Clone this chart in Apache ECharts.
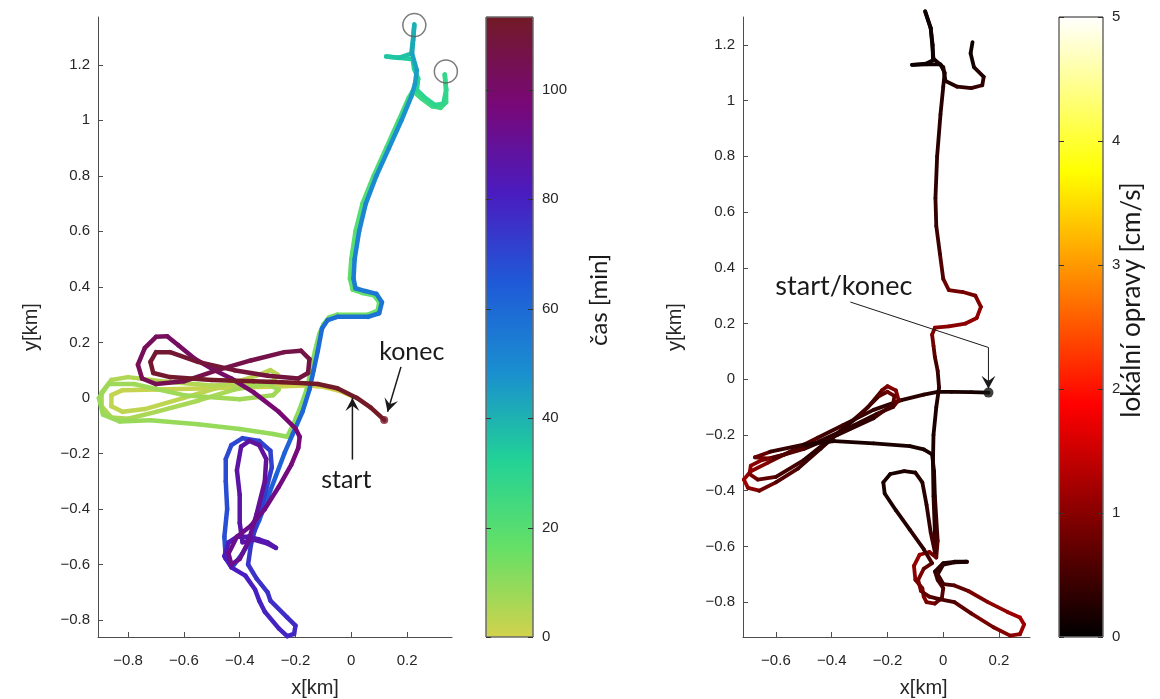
<!DOCTYPE html>
<html>
<head>
<meta charset="utf-8">
<script src="https://cdn.jsdelivr.net/npm/echarts@6/dist/echarts.min.js"></script>
<style>
  html, body { margin: 0; padding: 0; background: #fff; }
  #chart { width: 1160px; height: 699px; }
</style>
</head>
<body>
<div id="chart"></div>
<script>
// tick labels
const xTicksLeft = [-0.8, -0.6, -0.4, -0.2, 0, 0.2]
const xTicksRight = [-0.6, -0.4, -0.2, 0, 0.2]
const yTicks = [-0.8, -0.6, -0.4, -0.2, 0, 0.2, 0.4, 0.6, 0.8, 1, 1.2]
const timeTicks = [0, 20, 40, 60, 80, 100]
const corrTicks = [0, 1, 2, 3, 4, 5]

// colour maps (bottom -> top of the colorbars)
const timeColors = ['#d2d24c', '#66e066', '#22d296', '#1a8ed0', '#1f5ad8', '#4a1cc0', '#780878', '#721a26']
const hotColors = ['#000000', '#550000', '#aa0000', '#ff0000', '#ff5500', '#ffaa00', '#ffff00', '#ffff80', '#ffffff']

// left track: [x km, y km, time min]
const leftTrack = [
  [0.005, 0.005, 0], [-0.04, 0.025, 0.3], [-0.1, 0.04, 0.6], [-0.16, 0.045, 0.9], [-0.3, 0.04, 1.2],
  [-0.5, 0.035, 1.5], [-0.7, 0.03, 1.8], [-0.82, 0.028, 2.1], [-0.86, 0.01, 2.3], [-0.86, -0.03, 2.5],
  [-0.82, -0.05, 2.7], [-0.74, -0.04, 2.9], [-0.6, 0.0, 3.1], [-0.45, 0.045, 3.3], [-0.34, 0.08, 3.5],
  [-0.29, 0.1, 3.7], [-0.265, 0.085, 3.9], [-0.28, 0.06, 4.1], [-0.34, 0.05, 4.3], [-0.5, 0.045, 4.5],
  [-0.68, 0.06, 4.7], [-0.8, 0.075, 4.9], [-0.86, 0.065, 5.1], [-0.895, 0.02, 5.3], [-0.895, -0.03, 5.5],
  [-0.86, -0.07, 5.7], [-0.8, -0.075, 5.9], [-0.7, -0.05, 6.1], [-0.55, -0.01, 6.3], [-0.42, 0.03, 6.5],
  [-0.3, 0.05, 6.7], [-0.26, 0.03, 6.9], [-0.28, 0.01, 7.1], [-0.4, -0.005, 7.3], [-0.6, 0.01, 7.5],
  [-0.78, 0.05, 7.7], [-0.87, 0.05, 7.9], [-0.905, 0.0, 8.1], [-0.89, -0.06, 8.3], [-0.83, -0.085, 8.5],
  [-0.72, -0.08, 8.7], [-0.55, -0.095, 8.9], [-0.4, -0.112, 9.1], [-0.28, -0.13, 9.3], [-0.23, -0.14, 9.5],
  [-0.21, -0.1, 10], [-0.185, -0.04, 10.5], [-0.16, 0.03, 11], [-0.145, 0.1, 11.5], [-0.13, 0.17, 12],
  [-0.115, 0.23, 12.5], [-0.1, 0.265, 13], [-0.08, 0.29, 13.5], [-0.05, 0.3, 14], [0.06, 0.3, 15],
  [0.095, 0.315, 15.5], [0.1, 0.345, 16], [0.08, 0.37, 16.5], [0.04, 0.378, 17], [0.005, 0.39, 17.5],
  [-0.005, 0.43, 18], [0.0, 0.5, 18.5], [0.015, 0.6, 19.5], [0.04, 0.7, 20.5], [0.08, 0.8, 21.5],
  [0.125, 0.9, 22.5], [0.17, 1.0, 23.5], [0.205, 1.08, 24.5], [0.22, 1.105, 25], [0.25, 1.08, 25.5],
  [0.29, 1.05, 26], [0.32, 1.045, 26.5], [0.34, 1.065, 27], [0.34, 1.11, 27.5], [0.335, 1.165, 28],
  [0.34, 1.11, 28.5], [0.33, 1.06, 29], [0.3, 1.055, 29.5], [0.26, 1.085, 30], [0.235, 1.11, 30.5],
  [0.24, 1.15, 31], [0.225, 1.185, 32], [0.22, 1.22, 33], [0.17, 1.225, 34], [0.125, 1.23, 35],
  [0.17, 1.225, 36], [0.215, 1.24, 37], [0.222, 1.3, 38.5], [0.226, 1.345, 40], [0.222, 1.29, 41.5],
  [0.218, 1.24, 43], [0.235, 1.18, 44.5], [0.228, 1.13, 46], [0.215, 1.085, 47], [0.18, 1.0, 48],
  [0.135, 0.9, 49], [0.09, 0.8, 50], [0.052, 0.7, 51], [0.028, 0.6, 52], [0.012, 0.5, 53],
  [0.008, 0.43, 54], [0.015, 0.395, 54.5], [0.05, 0.385, 55], [0.09, 0.375, 55.5], [0.11, 0.345, 56],
  [0.1, 0.305, 56.5], [0.06, 0.292, 57], [-0.05, 0.292, 58], [-0.085, 0.28, 58.5], [-0.105, 0.25, 59],
  [-0.12, 0.17, 59.5], [-0.135, 0.1, 60], [-0.15, 0.03, 60.5], [-0.175, -0.05, 61], [-0.21, -0.13, 61.5],
  [-0.24, -0.2, 62], [-0.27, -0.28, 62.5], [-0.3, -0.36, 63], [-0.33, -0.44, 64], [-0.36, -0.51, 65],
  [-0.39, -0.56, 66], [-0.42, -0.6, 66.5], [-0.45, -0.58, 67], [-0.455, -0.5, 67.5], [-0.445, -0.4, 68],
  [-0.45, -0.3, 68.5], [-0.45, -0.22, 69], [-0.43, -0.17, 69.5], [-0.39, -0.145, 70], [-0.33, -0.155, 70.5],
  [-0.29, -0.19, 71], [-0.285, -0.25, 71.5], [-0.31, -0.35, 72], [-0.34, -0.45, 73], [-0.36, -0.53, 74],
  [-0.37, -0.6, 74.5], [-0.34, -0.65, 75], [-0.3, -0.7, 75.5], [-0.29, -0.73, 76], [-0.23, -0.79, 77],
  [-0.2, -0.82, 77.5], [-0.205, -0.85, 78], [-0.23, -0.858, 78.5], [-0.26, -0.83, 79], [-0.31, -0.77, 79.5],
  [-0.33, -0.73, 80], [-0.345, -0.69, 80.5], [-0.38, -0.64, 81], [-0.43, -0.61, 81.5], [-0.455, -0.57, 82],
  [-0.44, -0.52, 82.5], [-0.41, -0.5, 83], [-0.37, -0.5, 83.5], [-0.33, -0.51, 84], [-0.3, -0.52, 84.5],
  [-0.27, -0.54, 85], [-0.3, -0.525, 85.3], [-0.35, -0.51, 85.6], [-0.39, -0.52, 86], [-0.4, -0.45, 86.5],
  [-0.4, -0.35, 87], [-0.41, -0.26, 87.5], [-0.395, -0.175, 88], [-0.365, -0.155, 88.5], [-0.33, -0.17, 89],
  [-0.305, -0.22, 89.5], [-0.31, -0.3, 90], [-0.34, -0.42, 90.5], [-0.37, -0.52, 91], [-0.4, -0.58, 91.5],
  [-0.43, -0.6, 92], [-0.44, -0.56, 92.5], [-0.41, -0.5, 93], [-0.36, -0.46, 93.5], [-0.31, -0.4, 94],
  [-0.26, -0.32, 95], [-0.215, -0.24, 96], [-0.19, -0.18, 96.5], [-0.185, -0.14, 97], [-0.2, -0.11, 97.5],
  [-0.26, -0.05, 98], [-0.35, 0.02, 99], [-0.43, 0.07, 100], [-0.49, 0.1, 100.5], [-0.56, 0.14, 101],
  [-0.62, 0.19, 101.5], [-0.66, 0.222, 102], [-0.7, 0.22, 102.5], [-0.74, 0.18, 103], [-0.765, 0.12, 103.5],
  [-0.75, 0.07, 104], [-0.7, 0.05, 104.5], [-0.6, 0.06, 105], [-0.48, 0.1, 105.5], [-0.36, 0.135, 106],
  [-0.24, 0.165, 106.5], [-0.18, 0.17, 107], [-0.15, 0.14, 107.5], [-0.155, 0.09, 108], [-0.19, 0.07, 108.5],
  [-0.3, 0.08, 109], [-0.42, 0.1, 109.5], [-0.55, 0.13, 110], [-0.65, 0.165, 110.5], [-0.7, 0.165, 111],
  [-0.72, 0.13, 111.3], [-0.71, 0.09, 111.6], [-0.65, 0.075, 112], [-0.5, 0.065, 112.3], [-0.35, 0.06, 112.6],
  [-0.2, 0.055, 112.8], [-0.12, 0.05, 113], [-0.05, 0.035, 113.1], [0.02, 0.0, 113.2], [0.07, -0.035, 113.25],
  [0.118, -0.079, 113.3]
]

// right track: [x km, y km, correction cm/s]
const rightTrack = [
  [0.162, -0.048, 0.1], [0.1, -0.046, 0.15], [0.03, -0.045, 0.2], [-0.02, -0.045, 0.2], [-0.07, -0.055, 0.3],
  [-0.15, -0.075, 0.3], [-0.25, -0.11, 0.4], [-0.36, -0.165, 0.4], [-0.45, -0.21, 0.5], [-0.55, -0.26, 0.7],
  [-0.63, -0.3, 0.9], [-0.69, -0.33, 1.1], [-0.715, -0.36, 1.2], [-0.7, -0.39, 1.1], [-0.66, -0.4, 0.9],
  [-0.6, -0.37, 0.7], [-0.52, -0.32, 0.5], [-0.44, -0.25, 0.4], [-0.35, -0.17, 0.4], [-0.27, -0.1, 0.5],
  [-0.22, -0.04, 0.7], [-0.2, -0.025, 0.9], [-0.17, -0.04, 1.0], [-0.16, -0.075, 0.9], [-0.18, -0.1, 0.6],
  [-0.24, -0.125, 0.4], [-0.34, -0.175, 0.3], [-0.46, -0.23, 0.4], [-0.57, -0.27, 0.6], [-0.65, -0.29, 0.9],
  [-0.69, -0.31, 1.1], [-0.695, -0.34, 1.0], [-0.665, -0.36, 0.8], [-0.6, -0.35, 0.6], [-0.5, -0.29, 0.4],
  [-0.4, -0.21, 0.3], [-0.3, -0.13, 0.4], [-0.23, -0.06, 0.6], [-0.2, -0.045, 0.8], [-0.175, -0.06, 0.8],
  [-0.18, -0.09, 0.6], [-0.25, -0.14, 0.4], [-0.38, -0.2, 0.3], [-0.5, -0.25, 0.4], [-0.62, -0.285, 0.8],
  [-0.675, -0.28, 1.0], [-0.62, -0.26, 0.5], [-0.5, -0.235, 0.3], [-0.39, -0.222, 0.2], [-0.25, -0.23, 0.2],
  [-0.12, -0.24, 0.2], [-0.07, -0.252, 0.2], [-0.04, -0.27, 0.2], [-0.033, -0.33, 0.2], [-0.03, -0.42, 0.3],
  [-0.025, -0.5, 0.4], [-0.02, -0.58, 0.5], [-0.025, -0.64, 0.7], [-0.05, -0.62, 0.9], [-0.085, -0.63, 1.1],
  [-0.105, -0.67, 1.1], [-0.1, -0.72, 1.0], [-0.075, -0.75, 0.8], [-0.07, -0.78, 0.9], [-0.06, -0.8, 1.0],
  [-0.03, -0.805, 0.8], [-0.005, -0.785, 0.7], [0.0, -0.75, 0.6], [-0.02, -0.72, 0.5], [-0.03, -0.69, 0.4],
  [0.0, -0.66, 0.3], [0.04, -0.655, 0.2], [0.085, -0.655, 0.2], [0.04, -0.657, 0.2], [0.0, -0.665, 0.3],
  [-0.02, -0.7, 0.4], [0.0, -0.735, 0.5], [0.04, -0.74, 0.6], [0.09, -0.76, 0.8], [0.16, -0.8, 1.0],
  [0.23, -0.835, 1.1], [0.275, -0.855, 1.2], [0.29, -0.88, 1.2], [0.275, -0.915, 1.1], [0.24, -0.92, 1.0],
  [0.18, -0.89, 0.9], [0.1, -0.84, 0.8], [0.04, -0.8, 0.6], [-0.01, -0.79, 0.5], [-0.05, -0.78, 0.6],
  [-0.08, -0.76, 0.8], [-0.09, -0.72, 1.0], [-0.07, -0.68, 0.8], [-0.04, -0.66, 0.6], [-0.07, -0.61, 0.4],
  [-0.12, -0.54, 0.3], [-0.17, -0.47, 0.2], [-0.21, -0.41, 0.2], [-0.215, -0.37, 0.2], [-0.19, -0.34, 0.2],
  [-0.14, -0.33, 0.2], [-0.1, -0.335, 0.2], [-0.075, -0.37, 0.3], [-0.06, -0.45, 0.3], [-0.045, -0.55, 0.4],
  [-0.03, -0.62, 0.6], [-0.03, -0.55, 0.4], [-0.035, -0.42, 0.3], [-0.037, -0.3, 0.2], [-0.035, -0.2, 0.2],
  [-0.025, -0.1, 0.2], [-0.015, -0.03, 0.3], [-0.02, 0.03, 0.4], [-0.03, 0.08, 0.6], [-0.035, 0.12, 0.8],
  [-0.04, 0.16, 0.9], [-0.03, 0.185, 1.0], [0.02, 0.19, 1.0], [0.08, 0.2, 1.0], [0.12, 0.22, 1.1],
  [0.135, 0.26, 1.0], [0.115, 0.3, 0.9], [0.07, 0.313, 0.8], [0.02, 0.32, 0.9], [0.0, 0.36, 0.7],
  [-0.012, 0.45, 0.5], [-0.025, 0.55, 0.4], [-0.028, 0.65, 0.4], [-0.022, 0.8, 0.3], [-0.01, 0.95, 0.3],
  [0.0, 1.05, 0.3], [0.005, 1.1, 0.2], [-0.01, 1.13, 0.15], [-0.06, 1.13, 0.1], [-0.112, 1.128, 0.1],
  [-0.06, 1.133, 0.1], [-0.037, 1.145, 0.1], [-0.038, 1.2, 0.1], [-0.045, 1.26, 0.1], [-0.065, 1.32, 0.1],
  [-0.045, 1.26, 0.1], [-0.035, 1.15, 0.1], [0.0, 1.12, 0.2], [0.008, 1.07, 0.2], [0.05, 1.05, 0.3],
  [0.1, 1.045, 0.4], [0.14, 1.055, 0.4], [0.145, 1.085, 0.3], [0.11, 1.12, 0.2], [0.098, 1.17, 0.1],
  [0.105, 1.21, 0.1]
]

// markers
const leftCircles = [[0.226, 1.343], [0.339, 1.176]]
const leftEnd = [[0.118, -0.079]]
const rightEnd = [[0.162, -0.048]]

// annotations in data coordinates
const konecArrow = [[0.178, 0.112], [0.13, -0.05]]
const startArrow = [[0.004, -0.222], [0.004, 0.0]]
const bothArrow = [[-0.333, 0.277], [0.162, 0.114], [0.162, -0.034]]

const LABEL_FONT = 'Liberation Sans'
const NOTE_FONT = 'Lato'

const minusFmt = v => (v < 0 ? '\u2212' : '') + Math.abs(v)

function toSegments(track) {
  const segs = []
  for (let i = 0; i < track.length - 1; i++) {
    const a = track[i]
    const b = track[i + 1]
    segs.push([a[0], a[1], b[0], b[1], (a[2] + b[2]) / 2])
  }
  return segs
}

function mapAxis(gridIndex, min, max, ticks, name, nameGap, isX) {
  return {
    gridIndex,
    type: 'value',
    min,
    max,
    name,
    nameLocation: 'middle',
    nameGap,
    nameTextStyle: { fontFamily: LABEL_FONT, fontSize: 20, color: '#262626' },
    axisLine: { show: true, onZero: false, lineStyle: { color: '#4d4d4d', width: 1 } },
    axisTick: { show: true, inside: true, length: 5, customValues: ticks, lineStyle: { color: '#4d4d4d' } },
    axisLabel: {
      customValues: ticks,
      formatter: minusFmt,
      color: '#262626',
      fontFamily: LABEL_FONT,
      fontSize: 15,
      margin: isX ? 16 : 8
    },
    splitLine: { show: false }
  }
}

function cbarAxis(gridIndex, max, ticks) {
  return {
    gridIndex,
    type: 'value',
    min: 0,
    max,
    position: 'right',
    axisLine: { show: false, onZero: false },
    axisTick: { show: false },
    axisLabel: {
      customValues: ticks,
      color: '#262626',
      fontFamily: LABEL_FONT,
      fontSize: 15,
      margin: 9
    },
    splitLine: { show: false }
  }
}

function trackSeries(index, track, width) {
  return {
    type: 'custom',
    xAxisIndex: index,
    yAxisIndex: index,
    data: toSegments(track),
    encode: { x: [0, 2], y: [1, 3] },
    silent: true,
    animation: false,
    renderItem(params, api) {
      const p1 = api.coord([api.value(0), api.value(1)])
      const p2 = api.coord([api.value(2), api.value(3)])
      return {
        type: 'line',
        shape: { x1: p1[0], y1: p1[1], x2: p2[0], y2: p2[1] },
        style: { stroke: api.visual('color'), lineWidth: width, lineCap: 'round' }
      }
    }
  }
}

// gradient bar with its own inward tick marks on both edges
function cbarSeries(index, max, colors, ticks) {
  const stops = colors.map((c, i) => ({ offset: i / (colors.length - 1), color: c }))
  return {
    type: 'custom',
    xAxisIndex: index,
    yAxisIndex: index,
    silent: true,
    animation: false,
    data: [[0, max]],
    renderItem(params, api) {
      const p0 = api.coord([0, 0])
      const p1 = api.coord([1, max])
      const children = [{
        type: 'rect',
        shape: { x: p0[0], y: p1[1], width: p1[0] - p0[0], height: p0[1] - p1[1] },
        style: { fill: new echarts.graphic.LinearGradient(0, 1, 0, 0, stops), stroke: '#6b6b6b', lineWidth: 1 }
      }]
      ticks.forEach(t => {
        const y = Math.round(api.coord([0, t])[1]) + 0.5
        children.push({ type: 'line', shape: { x1: p0[0], y1: y, x2: p0[0] + 5, y2: y }, style: { stroke: '#333', lineWidth: 1 } })
        children.push({ type: 'line', shape: { x1: p1[0] - 5, y1: y, x2: p1[0], y2: y }, style: { stroke: '#333', lineWidth: 1 } })
      })
      return { type: 'group', children }
    }
  }
}

const chart = echarts.init(document.getElementById('chart'), null, { renderer: 'canvas' })

const option = {
  backgroundColor: '#ffffff',
  animation: false,
  grid: [
    { left: 98, top: 17, width: 354, height: 620 },
    { left: 743, top: 17, width: 287, height: 620 },
    { left: 486, top: 17, width: 47, height: 620 },
    { left: 1059, top: 17, width: 44, height: 620 }
  ],
  xAxis: [
    mapAxis(0, -0.908, 0.361, xTicksLeft, '', 38, true),
    mapAxis(1, -0.718, 0.311, xTicksRight, '', 38, true),
    { gridIndex: 2, type: 'value', min: 0, max: 1, show: false },
    { gridIndex: 3, type: 'value', min: 0, max: 1, show: false }
  ],
  yAxis: [
    mapAxis(0, -0.861, 1.372, yTicks, 'y[km]', 57, false),
    mapAxis(1, -0.925, 1.3, yTicks, 'y[km]', 58, false),
    cbarAxis(2, 113.3, timeTicks),
    cbarAxis(3, 5, corrTicks)
  ],
  visualMap: [
    { type: 'continuous', show: false, seriesIndex: 0, dimension: 4, min: 0, max: 113.3, inRange: { color: timeColors } },
    { type: 'continuous', show: false, seriesIndex: 1, dimension: 4, min: 0, max: 5, inRange: { color: hotColors } }
  ],
  series: [
    trackSeries(0, leftTrack, 4.5),
    trackSeries(1, rightTrack, 3.8),
    cbarSeries(2, 113.3, timeColors, timeTicks),
    cbarSeries(3, 5, hotColors, corrTicks),
    {
      type: 'scatter',
      xAxisIndex: 0,
      yAxisIndex: 0,
      data: leftCircles,
      symbol: 'circle',
      symbolSize: 23,
      silent: true,
      itemStyle: { color: 'rgba(0,0,0,0)', borderColor: '#5a5a5a', borderWidth: 1.5 }
    },
    {
      type: 'scatter',
      xAxisIndex: 0,
      yAxisIndex: 0,
      data: leftEnd,
      symbolSize: 8,
      silent: true,
      itemStyle: { color: '#7a1a2a' }
    },
    {
      type: 'scatter',
      xAxisIndex: 1,
      yAxisIndex: 1,
      data: rightEnd,
      symbolSize: 10,
      silent: true,
      itemStyle: { color: '#111' }
    }
  ]
}

chart.setOption(option)

// arrows and notes, placed from data coordinates
function px(grid, p) {
  return chart.convertToPixel({ gridIndex: grid }, p)
}

function arrow(grid, pts, width) {
  const pp = pts.map(p => px(grid, p))
  const tip = pp[pp.length - 1]
  const prev = pp[pp.length - 2]
  const dx = tip[0] - prev[0]
  const dy = tip[1] - prev[1]
  const len = Math.sqrt(dx * dx + dy * dy)
  const ux = dx / len
  const uy = dy / len
  const L = 13
  const W = 7
  const head = [
    tip,
    [tip[0] - L * ux + W * uy, tip[1] - L * uy - W * ux],
    [tip[0] - 0.6 * L * ux, tip[1] - 0.6 * L * uy],
    [tip[0] - L * ux - W * uy, tip[1] - L * uy + W * ux]
  ]
  return [
    { type: 'polyline', shape: { points: pp }, style: { stroke: '#1a1a1a', lineWidth: width, fill: null }, z: 10 },
    { type: 'polygon', shape: { points: head }, style: { fill: '#1a1a1a' }, z: 10 }
  ]
}

function note(grid, p, text, align, size) {
  const q = px(grid, p)
  return {
    type: 'text',
    x: q[0],
    y: q[1],
    z: 10,
    style: { text, fontFamily: NOTE_FONT, fontSize: size, fill: '#1a1a1a', align, verticalAlign: 'middle' }
  }
}

// x axis titles sit a little right of the drawn axes, as in the source figure
function xTitle(grid, x) {
  const q = px(grid, [x, 0])
  return {
    type: 'text', x: q[0], y: 688, z: 10,
    style: { text: 'x[km]', fontFamily: LABEL_FONT, fontSize: 20, fill: '#262626', align: 'center', verticalAlign: 'middle' }
  }
}

const graphics = []
  .concat(arrow(0, konecArrow, 1.5))
  .concat(arrow(0, startArrow, 1.5))
  .concat(arrow(1, bothArrow, 1))
graphics.push(note(0, [0.1, 0.165], 'konec', 'left', 25))
graphics.push(note(0, [-0.018, -0.297], 'start', 'center', 25))
graphics.push(note(1, [-0.602, 0.333], 'start/konec', 'left', 27))
graphics.push(xTitle(0, -0.13))
graphics.push(xTitle(1, -0.07))
graphics.push({
  type: 'text', x: 599, y: 300, rotation: Math.PI / 2, z: 10,
  style: { text: 'čas [min]', fontFamily: NOTE_FONT, fontSize: 24, fill: '#1a1a1a', align: 'center', verticalAlign: 'middle' }
})
graphics.push({
  type: 'text', x: 1132, y: 300, rotation: Math.PI / 2, z: 10,
  style: { text: 'lokální opravy [cm/s]', fontFamily: NOTE_FONT, fontSize: 26, fill: '#1a1a1a', align: 'center', verticalAlign: 'middle' }
})

chart.setOption({ graphic: graphics })
</script>
</body>
</html>
